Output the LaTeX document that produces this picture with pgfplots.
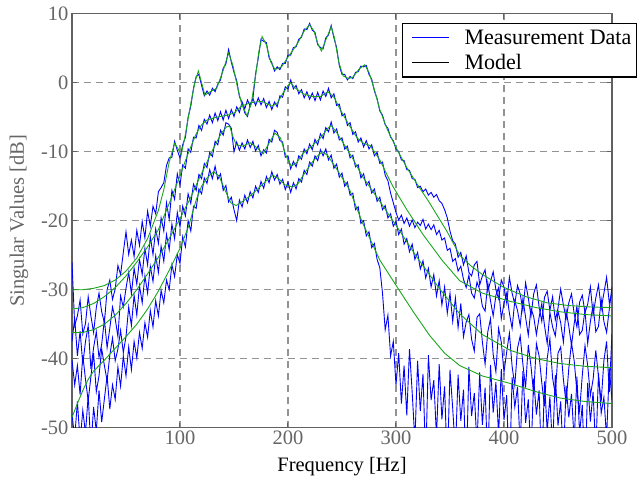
\documentclass[border=0pt]{standalone}
\usepackage{pgfplots}
\usepackage{pgfplotstable}
\pgfplotsset{compat=1.18}
\usepackage{fontspec}
\setmainfont{Liberation Serif}
\definecolor{mgreen}{rgb}{0.1,0.65,0.1}
\definecolor{tickgray}{rgb}{0.4,0.4,0.4}
\definecolor{axgray}{rgb}{0.38,0.38,0.38}

\pgfplotstableread{
f d1 d2 d3 d4
0 -26.0 -37.5 -40.2 -48.0
2.5 -35.2 -34.1 -43.8 -51.5
5 -33.8 -39.6 -41.0 -46.2
7.5 -31.5 -36.0 -45.2 -52.0
10 -36.4 -40.8 -39.5 -47.5
12.5 -34.9 -37.5 -43.0 -50.8
15 -31.0 -35.2 -46.1 -45.3
17.5 -33.8 -41.5 -42.6 -53.0
20 -36.2 -38.4 -39.2 -47.0
22.5 -32.6 -36.1 -44.8 -50.5
25 -30.5 -39.8 -42.5 -44.6
27.5 -33.2 -37.9 -38.6 -49.2
30 -34.8 -34.3 -41.0 -45.8
32.5 -30.0 -38.4 -43.2 -42.5
35 -28.6 -35.6 -39.5 -47.3
37.5 -31.4 -32.5 -37.0 -43.8
40 -29.9 -34.2 -40.3 -45.9
42.5 -26.5 -36.8 -38.6 -41.2
45 -27.8 -30.9 -35.9 -44.0
47.5 -24.6 -32.5 -39.1 -39.6
50 -21.6 -29.8 -36.8 -42.5
52.5 -24.9 -27.5 -32.5 -38.3
55 -22.8 -30.6 -35.2 -41.6
57.5 -25.2 -26.9 -30.8 -37.5
60 -21.4 -29.2 -33.7 -39.9
62.5 -23.6 -25.6 -29.4 -36.2
65 -20.1 -27.8 -31.9 -38.5
67.5 -22.5 -24.0 -28.0 -34.8
70 -18.6 -26.4 -30.5 -36.9
72.5 -20.8 -22.3 -26.6 -33.0
75 -17.9 -24.9 -28.8 -35.4
77.5 -19.0 -21.2 -25.1 -31.6
80 -15.8 -23.3 -27.5 -33.8
82.5 -15.2 -19.6 -23.7 -30.1
85 -14.5 -21.5 -25.9 -31.9
87.5 -12.0 -17.4 -22.0 -28.6
90 -10.9 -19.8 -24.2 -30.0
92.5 -10.8 -15.6 -20.5 -26.4
95 -8.5 -16.9 -22.6 -28.1
97.5 -9.8 -13.2 -18.8 -24.9
100 -10.9 -14.8 -20.9 -26.2
102.5 -9.0 -11.9 -17.9 -22.3
105 -7.9 -12.4 -19.3 -23.8
107.5 -5.0 -9.6 -16.1 -20.0
110 -3.4 -10.1 -17.5 -21.5
112.5 -0.8 -7.9 -14.7 -17.9
115 0.9 -8.0 -15.6 -18.2
117.5 1.2 -6.2 -13.3 -15.4
120 -0.4 -6.9 -13.9 -16.1
122.5 -1.9 -5.3 -11.7 -13.8
125 -1.2 -6.0 -12.3 -14.6
127.5 -1.8 -4.7 -10.1 -12.6
130 -0.8 -5.8 -10.7 -13.9
132.5 -1.3 -4.4 -8.5 -12.1
135 -0.2 -5.5 -9.0 -14.0
137.5 0.4 -4.2 -6.9 -13.2
140 2.1 -5.4 -7.6 -15.6
142.5 2.7 -4.0 -5.8 -14.9
145 4.8 -5.2 -6.0 -17.3
147.5 3.0 -3.9 -6.6 -16.6
150 1.5 -4.9 -10.0 -18.4
152.5 0.3 -3.5 -8.6 -20.0
155 -2.0 -4.3 -9.8 -17.0
157.5 -2.9 -2.8 -8.7 -18.0
160 -4.4 -3.8 -9.6 -16.3
162.5 -4.9 -2.5 -8.3 -17.4
165 -3.2 -3.4 -9.4 -15.8
167.5 -2.3 -2.3 -8.5 -16.7
170 1.3 -3.3 -9.9 -15.0
172.5 3.6 -2.2 -9.1 -15.9
175 6.3 -3.2 -10.6 -14.3
177.5 6.0 -2.3 -9.7 -15.3
180 5.8 -3.6 -10.2 -13.6
182.5 3.6 -2.7 -8.2 -14.5
185 2.9 -3.9 -8.6 -12.9
187.5 1.7 -2.8 -6.9 -14.1
190 2.3 -3.5 -7.2 -13.3
192.5 1.9 -1.9 -8.4 -14.7
195 2.8 -2.1 -8.6 -14.0
197.5 2.8 -0.6 -10.8 -15.5
200 4.0 -0.9 -10.6 -14.4
202.5 4.0 0.4 -12.5 -15.9
205 5.1 -0.9 -11.4 -14.5
207.5 5.2 -0.4 -12.2 -15.4
210 6.3 -1.6 -10.6 -13.9
212.5 6.6 -1.0 -11.1 -14.4
215 7.8 -2.2 -9.6 -12.7
217.5 7.7 -1.3 -10.3 -13.3
220 8.6 -2.4 -8.9 -11.5
222.5 7.6 -1.5 -9.7 -12.1
225 7.3 -2.6 -8.2 -10.6
227.5 5.5 -1.4 -9.0 -11.3
230 5.1 -2.5 -7.4 -9.7
232.5 4.9 -1.2 -8.1 -10.6
235 6.5 -2.0 -6.5 -9.6
237.5 6.9 -0.8 -7.1 -11.2
240 8.3 -2.2 -5.7 -10.5
242.5 6.5 -1.6 -7.3 -12.4
245 5.1 -3.3 -6.7 -11.8
247.5 2.5 -3.1 -8.3 -13.7
250 1.2 -4.8 -8.0 -13.1
252.5 1.2 -4.5 -9.6 -15.0
255 0.4 -6.2 -9.2 -14.4
257.5 0.9 -5.8 -10.9 -16.3
260 0.6 -7.5 -10.5 -16.0
262.5 1.5 -7.1 -12.2 -18.4
265 1.6 -8.6 -11.9 -18.0
267.5 2.4 -8.0 -13.8 -20.4
270 2.3 -9.3 -13.2 -20.0
272.5 2.5 -8.4 -14.9 -22.2
275 1.2 -9.6 -14.3 -21.6
277.5 0.5 -9.0 -16.0 -23.9
280 -1.2 -10.6 -15.4 -23.3
282.5 -2.3 -10.1 -17.2 -25.6
285 -4.1 -11.7 -16.6 -26.8
287.5 -4.7 -11.5 -18.4 -30.5
290 -6.1 -13.4 -17.8 -35.8
292.5 -6.6 -14.2 -19.6 -33.7
295 -7.9 -16.0 -19.0 -39.6
297.5 -8.4 -17.4 -20.8 -37.5
300 -9.6 -18.8 -20.1 -43.8
302.5 -10.0 -19.9 -22.0 -39.2
305 -11.2 -19.2 -21.2 -46.5
307.5 -11.3 -20.4 -23.4 -41.0
310 -12.6 -19.6 -22.6 -48.2
312.5 -12.7 -20.8 -24.5 -38.6
315 -13.9 -19.9 -23.4 -44.9
317.5 -14.0 -21.0 -25.6 -52.0
320 -15.2 -20.2 -24.6 -40.3
322.5 -15.0 -20.7 -27.0 -47.6
325 -15.8 -19.8 -25.8 -42.2
327.5 -15.4 -21.2 -28.3 -55.0
330 -16.3 -20.5 -26.9 -39.5
332.5 -15.9 -21.3 -29.6 -46.0
335 -16.6 -20.6 -27.8 -43.1
337.5 -16.2 -22.0 -30.9 -51.3
340 -17.1 -21.4 -28.7 -40.8
342.5 -17.5 -22.8 -32.2 -48.8
345 -18.4 -22.5 -29.6 -44.0
347.5 -19.6 -24.3 -33.4 -56.0
350 -21.5 -24.0 -30.5 -41.6
352.5 -22.9 -25.9 -34.6 -47.2
355 -23.4 -25.5 -31.2 -53.5
357.5 -25.3 -27.3 -35.5 -42.3
360 -24.6 -26.6 -32.0 -49.0
362.5 -26.4 -28.5 -36.8 -44.5
365 -25.1 -29.7 -34.7 -57.0
367.5 -27.5 -27.9 -33.6 -41.2
370 -28.0 -30.5 -37.2 -48.3
372.5 -26.4 -31.2 -38.9 -45.0
375 -25.9 -28.9 -34.0 -52.5
377.5 -29.3 -30.0 -33.5 -42.0
380 -28.0 -32.4 -37.6 -49.6
382.5 -27.1 -33.1 -40.8 -44.2
385 -30.2 -29.0 -36.1 -55.5
387.5 -28.8 -31.6 -34.2 -40.9
390 -27.4 -33.8 -39.4 -47.8
392.5 -30.0 -30.8 -41.9 -43.4
395 -31.3 -29.7 -35.6 -51.0
397.5 -28.6 -34.2 -37.6 -41.5
400 -29.6 -32.0 -42.0 -48.9
402.5 -31.9 -30.5 -39.0 -45.3
405 -28.2 -33.4 -36.3 -58.0
407.5 -30.5 -35.6 -41.1 -42.7
410 -32.1 -31.6 -43.9 -47.0
412.5 -29.4 -33.0 -38.5 -44.1
415 -30.6 -35.2 -36.7 -52.8
417.5 -33.0 -31.3 -40.8 -41.8
420 -29.0 -34.0 -44.2 -49.3
422.5 -31.2 -36.6 -38.0 -45.9
425 -33.8 -32.7 -41.1 -54.0
427.5 -30.6 -33.9 -45.2 -42.9
430 -29.3 -36.5 -37.8 -48.1
432.5 -32.5 -34.0 -39.6 -44.6
435 -34.6 -32.0 -43.5 -56.5
437.5 -31.1 -35.2 -46.9 -43.3
440 -30.2 -37.8 -40.0 -50.5
442.5 -33.0 -33.3 -37.1 -45.5
445 -31.0 -35.4 -42.8 -53.2
447.5 -34.4 -36.7 -45.2 -42.4
450 -32.7 -33.1 -39.2 -49.7
452.5 -29.9 -34.8 -38.3 -46.2
455 -32.2 -37.6 -43.0 -55.0
457.5 -34.2 -33.0 -46.5 -43.9
460 -31.9 -35.3 -41.4 -48.5
462.5 -30.6 -38.1 -37.7 -45.1
465 -33.5 -34.9 -40.3 -52.0
467.5 -35.4 -32.4 -44.8 -42.6
470 -31.8 -36.5 -47.6 -50.8
472.5 -30.8 -35.9 -42.4 -46.7
475 -33.3 -33.0 -38.1 -57.5
477.5 -32.1 -37.8 -41.0 -43.5
480 -29.6 -34.6 -45.3 -49.1
482.5 -33.7 -32.2 -43.0 -44.8
485 -31.2 -36.1 -38.8 -53.6
487.5 -29.3 -35.3 -42.6 -42.1
490 -32.8 -31.4 -46.2 -47.9
492.5 -30.5 -34.6 -40.3 -45.6
495 -28.2 -36.2 -37.5 -51.5
497.5 -31.9 -32.8 -44.8 -41.4
500 -30.5 -29.6 -36.4 -46.0
}\meas

\begin{document}
\begin{tikzpicture}
\begin{axis}[
  scale only axis, width=540pt, height=414pt,
  xmin=0, xmax=500, ymin=-50, ymax=10,
  xtick={100,200,300,400,500}, xticklabels={100,200,300,400,500},
  ytick={-50,-40,-30,-20,-10,0,10}, yticklabels={-50,-40,-30,-20,-10,0,10},
  grid=major,
  major grid style={dash pattern=on 7pt off 5pt, color=gray!85, line width=1.1pt},
  axis line style={color=axgray, line width=1.2pt},
  tick style={color=axgray, line width=1pt},
  major tick length=5pt, tick align=inside, tick pos=both,
  tick label style={font=\fontsize{20.5}{24}\selectfont, text=tickgray},
  xlabel={Frequency [Hz]}, ylabel={Singular Values [dB]},
  xlabel style={font=\fontsize{20.5}{24}\selectfont, text=black, at={(axis description cs:0.5,-0.095)}, anchor=center},
  ylabel style={font=\fontsize{20.5}{24}\selectfont, text=tickgray, at={(axis description cs:-0.098,0.5)}, anchor=center},
  legend style={at={(axis description cs:0.611,0.978)}, anchor=north west, draw=black, line width=1.3pt, fill=white,
    font=\fontsize{22}{25}\selectfont, inner xsep=3pt, inner ysep=4.5pt, row sep=4pt},
  legend cell align=left,
  legend image code/.code={\path[draw=none,fill=none] (-6pt,0pt) rectangle (51pt,0pt); \draw[#1, line width=1pt] (0pt,0pt) -- (37pt,0pt);},
]
\addlegendimage{blue}
\addlegendentry{Measurement Data}
\addlegendimage{black}
\addlegendentry{Model}

\addplot[blue, line width=0.9pt, forget plot] table[x=f, y=d1] {\meas};
\addplot[blue, line width=0.9pt, forget plot] table[x=f, y=d2] {\meas};
\addplot[blue, line width=0.9pt, forget plot] table[x=f, y=d3] {\meas};
\addplot[blue, line width=0.9pt, forget plot] table[x=f, y=d4] {\meas};

% model sigma 1
\addplot[mgreen, line width=0.9pt, forget plot] coordinates {
(0,-30.0) (10,-30.0) (20,-29.8) (30,-29.4) (40,-28.6) (50,-27.3) (60,-25.4) (70,-22.6) (80,-18.5) (85,-15.5) (90,-11.5) (95,-8.8) (98,-9.5) (101,-10.5) (105,-7.5) (110,-3.0) (114,0.2) (117,1.7) (120,0.0) (123,-1.8) (128,-1.3) (134,-0.8) (140,1.8) (145,4.3) (149,2.5) (153,-0.5) (157,-3.0) (162,-4.8) (166,-3.0) (170,1.0) (173,4.5) (176,6.7) (180,5.5) (184,3.0) (188,1.9) (194,2.3) (200,3.7) (205,4.8) (210,6.0) (215,7.5) (220,8.4) (224,7.5) (228,5.5) (231,4.6) (235,6.2) (240,8.1) (243,6.5) (247,3.0) (251,1.0) (256,0.6) (260,0.8) (266,2.0) (271,2.6) (275,1.5) (280,-1.0) (285,-3.9) (292,-6.8) (301,-9.7) (310,-12.3) (320,-14.8) (331,-17.4) (347,-21.5) (359,-25.0) (369,-26.5) (380,-27.8) (399,-29.6) (420,-31.0) (440,-31.9) (460,-32.3) (480,-32.5) (500,-32.6)};
% model sigma 2
\addplot[mgreen, line width=0.9pt, forget plot] coordinates {
(0,-32.8) (10,-32.6) (20,-32.0) (30,-31.0) (40,-29.7) (50,-28.0) (60,-26.0) (70,-23.8) (80,-21.3) (90,-17.5) (100,-13.5) (105,-11.3) (110,-9.3) (115,-7.4) (120,-6.1) (125,-5.4) (134,-5.0) (144,-4.7) (150,-4.4) (157,-3.4) (165,-2.9) (176,-2.7) (185,-3.4) (190,-3.0) (195,-1.6) (202,0.0) (207,-0.8) (214,-1.6) (222,-2.0) (230,-2.0) (237,-1.3) (243,-2.2) (248,-3.8) (256,-6.0) (264,-8.0) (270,-8.8) (276,-9.1) (285,-11.2) (297,-15.0) (310,-18.4) (325,-22.0) (343,-25.8) (359,-28.7) (380,-30.5) (406,-31.7) (430,-32.6) (452,-33.2) (475,-33.6) (500,-33.8)};
% model sigma 3
\addplot[mgreen, line width=0.9pt, forget plot] coordinates {
(0,-36.2) (10,-36.2) (20,-35.8) (30,-35.0) (40,-33.7) (50,-32.0) (60,-30.0) (70,-27.7) (80,-25.3) (90,-22.6) (100,-19.7) (110,-16.6) (118,-13.8) (125,-11.5) (131,-9.5) (138,-7.4) (143,-6.4) (146,-6.3) (149,-7.8) (152,-9.0) (158,-9.2) (165,-8.7) (171,-9.4) (177,-10.3) (183,-8.6) (188,-7.3) (193,-8.0) (198,-10.5) (203,-12.1) (208,-11.6) (214,-10.2) (222,-9.2) (230,-8.0) (237,-6.6) (240,-6.2) (245,-7.2) (251,-8.7) (260,-11.0) (269,-13.6) (285,-17.2) (301,-20.9) (319,-25.2) (341,-30.0) (359,-33.5) (380,-36.5) (406,-38.8) (430,-40.0) (452,-40.7) (475,-41.1) (500,-41.3)};
% model sigma 4
\addplot[mgreen, line width=0.9pt, forget plot] coordinates {
(0,-48.5) (5,-46.5) (10,-44.6) (15,-43.0) (20,-41.8) (30,-40.2) (40,-38.5) (50,-36.8) (60,-35.0) (70,-32.8) (80,-30.2) (90,-27.2) (100,-24.0) (108,-20.8) (115,-17.0) (120,-15.0) (125,-13.8) (131,-12.9) (136,-13.5) (141,-15.3) (147,-17.4) (152,-17.8) (158,-17.2) (165,-16.4) (172,-15.4) (180,-14.2) (186,-13.4) (192,-14.0) (197,-14.8) (204,-15.1) (209,-14.7) (215,-13.2) (222,-11.6) (228,-10.5) (232,-10.0) (237,-10.6) (245,-12.5) (257,-15.5) (269,-20.3) (285,-25.7) (301,-29.6) (316,-33.2) (331,-36.6) (345,-39.2) (359,-41.0) (380,-42.5) (406,-43.6) (430,-44.8) (452,-45.7) (475,-46.2) (500,-46.5)};
\end{axis}
\pgfresetboundingbox
\path[use as bounding box] (-72pt,-54.3pt) rectangle (568pt,427.7pt);
\end{tikzpicture}
\end{document}
